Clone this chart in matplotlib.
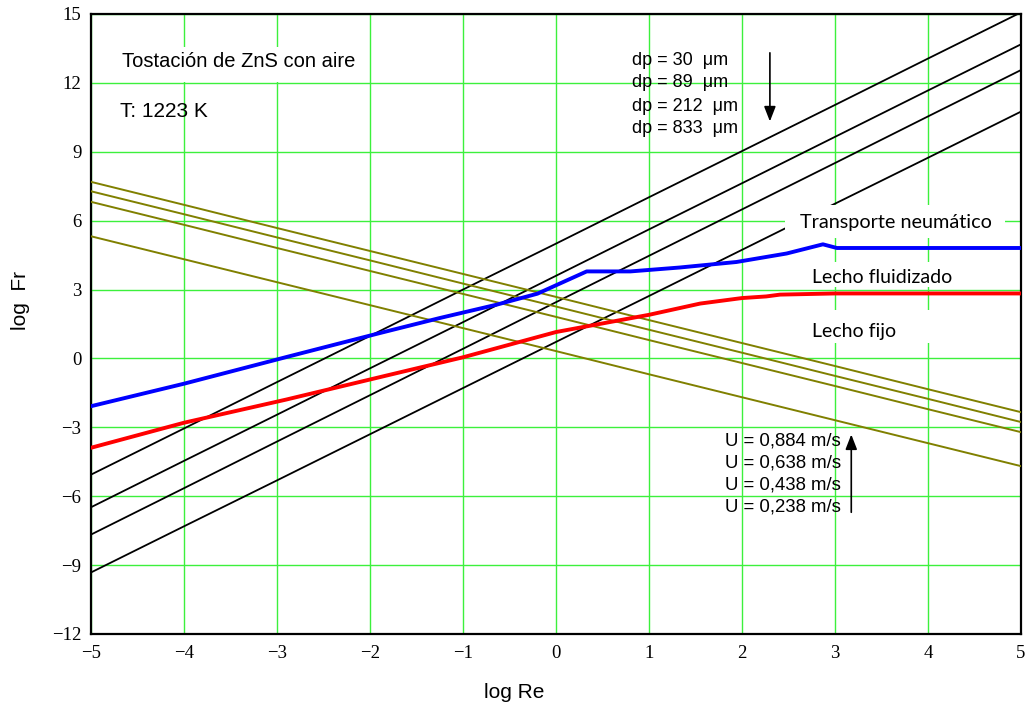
import numpy as np
import matplotlib
matplotlib.use("Agg")
import matplotlib.pyplot as plt
from matplotlib.patches import Rectangle

# log Re sample points
log_re = [-5, -4, -3, -2, -1, 0, 1, 2, 3, 4, 5]

# lines of constant particle size (log Fr)
dp_labels = ["dp = 30  \u03bcm", "dp = 89  \u03bcm", "dp = 212  \u03bcm", "dp = 833  \u03bcm"]
dp_30 = [-5.06, -3.05, -1.03, 0.98, 3.00, 5.00, 7.02, 9.03, 11.04, 13.06, 15.07]
dp_89 = [-6.48, -4.46, -2.45, -0.43, 1.58, 3.60, 5.62, 7.63, 9.65, 11.67, 13.68]
dp_212 = [-7.67, -5.65, -3.62, -1.60, 0.42, 2.45, 4.47, 6.49, 8.51, 10.54, 12.56]
dp_833 = [-9.32, -7.31, -5.31, -3.30, -1.29, 0.72, 2.72, 4.73, 6.74, 8.74, 10.75]

# lines of constant gas velocity
u_labels = ["U = 0,884 m/s", "U = 0,638 m/s", "U = 0,438 m/s", "U = 0,238 m/s"]
u_884 = [7.69, 6.69, 5.68, 4.68, 3.68, 2.68, 1.67, 0.67, -0.33, -1.34, -2.34]
u_638 = [7.28, 6.28, 5.27, 4.27, 3.26, 2.26, 1.25, 0.25, -0.76, -1.76, -2.77]
u_438 = [6.82, 5.82, 4.81, 3.81, 2.81, 1.81, 0.80, -0.20, -1.20, -2.21, -3.21]
u_238 = [5.32, 4.32, 3.32, 2.32, 1.32, 0.32, -0.69, -1.69, -2.69, -3.69, -4.69]

# pneumatic transport boundary (blue)
tr_x = [-5, -4, -2.9, -1.89, -1.25, -0.64, -0.2, 0.33, 0.8, 1.33, 1.94, 2.48, 2.87, 3.02, 5]
tr_y = [-2.08, -1.1, 0.06, 1.11, 1.76, 2.34, 2.82, 3.79, 3.79, 3.96, 4.2, 4.57, 4.97, 4.81, 4.81]

# minimum fluidization boundary (red)
mf_x = [-5, -4, -2.9, -1.89, -1, 0, 1, 1.55, 2, 2.26, 2.41, 3, 5]
mf_y = [-3.89, -2.8, -1.79, -0.81, 0.05, 1.15, 1.9, 2.39, 2.63, 2.70, 2.78, 2.83, 2.83]

sans = "Liberation Sans"
serif = "Liberation Serif"
lab_font = "Lato"

fig = plt.figure(figsize=(10.3, 7.04), dpi=100)
ax = fig.add_axes([91 / 1030, 70 / 704, 930 / 1030, 620 / 704])

ax.set_xlim(-5, 5)
ax.set_ylim(-12, 15)
ax.set_xticks(np.arange(-5, 6, 1))
ax.set_yticks(np.arange(-12, 16, 3))
ax.grid(True, color="#3cf03c", linewidth=1.0)
ax.set_axisbelow(True)
ax.tick_params(length=0, labelsize=13.5)
ax.tick_params(axis="x", pad=8)
ax.tick_params(axis="y", pad=7)
for lab in ax.get_xticklabels() + ax.get_yticklabels():
    lab.set_fontfamily(serif)
for sp in ax.spines.values():
    sp.set_linewidth(1.6)
    sp.set_color("black")

for ys in [dp_30, dp_89, dp_212, dp_833]:
    ax.plot(log_re, ys, color="black", lw=1.3, zorder=3)
for ys in [u_884, u_638, u_438, u_238]:
    ax.plot(log_re, ys, color="#808000", lw=1.4, zorder=3)
ax.plot(tr_x, tr_y, color="#0000ff", lw=2.8, zorder=4)
ax.plot(mf_x, mf_y, color="#ff0000", lw=2.8, zorder=4)

# white label boxes (as in the original sheet)
for (x0, y0, w, h) in [(2.46, 5.24, 2.37, 1.44), (2.46, 3.11, 2.37, 1.09),
                       (2.46, 0.67, 2.37, 1.44), (-4.8, 12.04, 2.74, 1.52)]:
    ax.add_patch(Rectangle((x0, y0), w, h, facecolor="white", edgecolor="none", zorder=5))

ax.text(-4.667, 12.70, "Tostación de ZnS con aire", fontsize=14.5, family=sans, zorder=6)
ax.text(-4.69, 10.53, "T: 1223 K", fontsize=15, family=sans, zorder=6)

for lab, yb in zip(dp_labels, [12.78, 11.81, 10.79, 9.83]):
    ax.text(0.814, yb, lab, fontsize=13, family=sans, zorder=6)
for lab, yb in zip(u_labels, [-3.77, -4.76, -5.70, -6.68]):
    ax.text(1.817, yb, lab, fontsize=13.4, family=sans, zorder=6)

ax.text(2.62, 5.67, "Transporte neumático", fontsize=14.3, family=lab_font, zorder=6)
ax.text(2.75, 3.27, "Lecho fluidizado", fontsize=14, family=lab_font, zorder=6)
ax.text(2.75, 0.92, "Lecho fijo", fontsize=14, family=lab_font, zorder=6)

arrow = dict(arrowstyle="-|>,head_length=0.9,head_width=0.35", color="black", lw=1.2)
ax.annotate("", xy=(2.30, 10.2), xytext=(2.30, 13.43), arrowprops=arrow, zorder=6)
ax.annotate("", xy=(3.175, -3.19), xytext=(3.175, -6.82), arrowprops=arrow, zorder=6)

fig.text(514 / 1030, 1 - 692 / 704, "log Re", fontsize=15, family=sans, ha="center", va="center")
fig.text(21 / 1030, 1 - 300 / 704, "log  Fr", fontsize=15, family=sans, ha="center", va="center",
         rotation=90)

fig.savefig("out.png", dpi=100)
